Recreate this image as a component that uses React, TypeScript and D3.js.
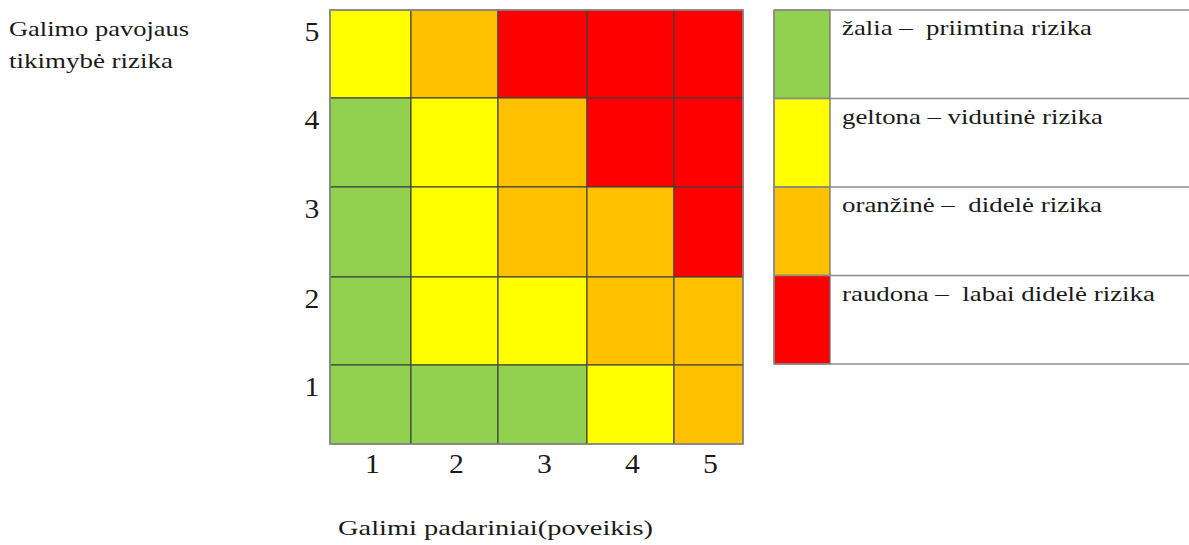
import React from 'react';
import { scaleLinear, scaleBand, scaleOrdinal } from 'd3';

// data
const impactValues = [1, 2, 3, 4, 5];
const likelihoodValues = [5, 4, 3, 2, 1];
const riskLevels = ['žalia', 'geltona', 'oranžinė', 'raudona'];
const riskLabels = ['žalia –  priimtina rizika', 'geltona – vidutinė rizika', 'oranžinė –  didelė rizika', 'raudona –  labai didelė rizika'];
// risk level index per cell, rows from likelihood 5 down to 1
const riskRow5 = [1, 2, 3, 3, 3];
const riskRow4 = [0, 1, 2, 3, 3];
const riskRow3 = [0, 1, 2, 2, 3];
const riskRow2 = [0, 1, 1, 2, 2];
const riskRow1 = [0, 0, 0, 1, 2];
const riskRows = [riskRow5, riskRow4, riskRow3, riskRow2, riskRow1];

const yTitle = ['Galimo pavojaus', 'tikimybė rizika'];
const xTitle = 'Galimi padariniai(poveikis)';

const width = 1189;
const height = 545;
const textStyle = { fontFamily: 'Liberation Serif, Times New Roman, serif', whiteSpace: 'pre' as const };

// cell edges measured off the original, the columns are not even
const colEdges = [330, 411, 498, 587, 674, 743];
const rowEdges = [10, 98, 187, 277, 365, 444];

const colors = ['#92D050', '#FFFF00', '#FFC000', '#FF0000'];

const App = () => {
    const x = scaleLinear().domain([0.5, 1.5, 2.5, 3.5, 4.5, 5.5]).range(colEdges);
    const y = scaleLinear().domain([5.5, 4.5, 3.5, 2.5, 1.5, 0.5]).range(rowEdges);
    const color = scaleOrdinal<string, string>().domain(riskLevels).range(colors);

    const legendY = scaleBand().domain(riskLevels).range([10, 364]);
    const legendX = 774;
    const swatchW = 56;

    const cells = riskRows.flatMap((row, ri) =>
        row.map((lvl, ci) => ({ imp: impactValues[ci], lik: likelihoodValues[ri], level: riskLevels[lvl] }))
    );

    return (
        <svg width={width} height={height} style={{ position: 'absolute', left: 0, top: 0, background: '#fff' }}>
            {/* axis title (y) */}
            {yTitle.map((t, i) => (
                <text key={t} x={9} y={36 + i * 32} style={textStyle} fontSize={22} fill="#1a1a1a"
                    textLength={i === 0 ? 180 : 164} lengthAdjust="spacingAndGlyphs">{t}</text>
            ))}

            {/* matrix */}
            <g>
                {cells.map(d => (
                    <rect key={`${d.imp}-${d.lik}`}
                        x={x(d.imp - 0.5)} y={y(d.lik + 0.5)}
                        width={x(d.imp + 0.5) - x(d.imp - 0.5)}
                        height={y(d.lik - 0.5) - y(d.lik + 0.5)}
                        fill={color(d.level)} stroke="#3f3f3f" strokeOpacity={0.85} strokeWidth={1.3} />
                ))}
                <rect x={colEdges[0]} y={rowEdges[0]} width={colEdges[5] - colEdges[0]} height={rowEdges[5] - rowEdges[0]}
                    fill="none" stroke="#8c8c8c" strokeWidth={1.5} />
            </g>

            {/* y ticks */}
            {likelihoodValues.map(v => (
                <text key={v} x={312} y={y(v + 0.5) + 31} textAnchor="middle" style={textStyle} fontSize={27} fill="#1a1a1a"
                    transform={`translate(${312 * -0.1},0) scale(1.1,1)`}>{v}</text>
            ))}

            {/* x ticks */}
            {impactValues.map(v => {
                const cx = (x(v - 0.5) + x(v + 0.5)) / 2 + 2;
                return (
                    <text key={v} x={cx} y={473} textAnchor="middle" style={textStyle} fontSize={27} fill="#1a1a1a"
                        transform={`translate(${cx * -0.1},0) scale(1.1,1)`}>{v}</text>
                );
            })}

            <text x={338} y={535} style={textStyle} fontSize={22} fill="#1a1a1a"
                textLength={315} lengthAdjust="spacingAndGlyphs">{xTitle}</text>

            {/* legend */}
            <g>
                {riskLevels.map((lvl, i) => {
                    const top = legendY(lvl) ?? 0;
                    const h = legendY.bandwidth();
                    return (
                        <g key={lvl}>
                            <rect x={legendX} y={top} width={swatchW} height={h} fill={color(lvl)}
                                stroke="#6a6a6a" strokeWidth={1.2} />
                            <line x1={legendX} x2={width} y1={top} y2={top} stroke="#8c8c8c" strokeWidth={1.5} />
                            <text x={842} y={top + 25} style={textStyle} fontSize={22} fill="#1a1a1a"
                                textLength={[250, 261, 260, 313][i]} lengthAdjust="spacingAndGlyphs">{riskLabels[i]}</text>
                        </g>
                    );
                })}
                <line x1={legendX} x2={width} y1={364} y2={364} stroke="#8c8c8c" strokeWidth={1.5} />
                <line x1={legendX} x2={legendX} y1={10} y2={364} stroke="#8c8c8c" strokeWidth={1.5} />
            </g>
        </svg>
    );
};

export default App;
